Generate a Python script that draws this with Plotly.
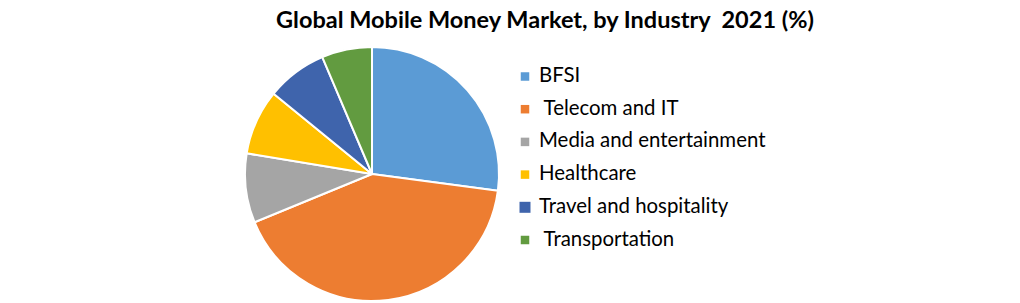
import plotly.graph_objects as go

categories = ["BFSI", " Telecom and IT", "Media and entertainment", "Healthcare",
              "Travel and hospitality", " Transportation"]
values = [27.1, 41.7, 8.8, 8.3, 7.7, 6.4]
colors = ["#5B9BD5", "#ED7D31", "#A5A5A5", "#FFC000", "#3F64AC", "#629B40"]
title_text = "Global Mobile Money Market, by Industry  2021 (%)"

W, H = 1020, 303
cx, cy, r = 372, 174, 127

fig = go.Figure(go.Pie(
    labels=categories,
    values=values,
    sort=False,
    direction="clockwise",
    rotation=0,
    marker=dict(colors=colors, line=dict(color="white", width=2)),
    textinfo="none",
    hoverinfo="label+value",
    showlegend=False,
    domain=dict(x=[(cx - r) / W, (cx + r) / W], y=[1 - (cy + r) / H, 1 - (cy - r) / H]),
))

# legend drawn manually (fixed spacing like the reference)
leg_x_sym, leg_x_txt, leg_top, leg_step = 525, 537, 74, 32.7
sym_sizes = {"Travel and hospitality": 11}
shapes, annotations = [], []
for i, (lab, col) in enumerate(zip(categories, colors)):
    yc = leg_top + i * leg_step
    s = sym_sizes.get(lab, 8.5)
    ys = yc + 2.5
    shapes.append(dict(type="rect", xref="paper", yref="paper",
                       x0=(leg_x_sym - s / 2) / W, x1=(leg_x_sym + s / 2) / W,
                       y0=1 - (ys + s / 2) / H, y1=1 - (ys - s / 2) / H,
                       fillcolor=col, line=dict(width=0)))
    annotations.append(dict(text=lab.replace(" ", "&nbsp;", 1) if lab.startswith(" ") else lab,
                            xref="paper", yref="paper",
                            x=leg_x_txt / W, y=1 - yc / H, xanchor="left", yanchor="middle",
                            showarrow=False,
                            font=dict(family="Lato", size=20.4, color="black")))

fig.update_layout(
    width=W, height=H,
    margin=dict(l=0, r=0, t=0, b=0),
    paper_bgcolor="white",
    plot_bgcolor="white",
    title=dict(text="<b>" + title_text + "</b>", x=545 / W, xanchor="center",
               y=1 - 20 / H, yanchor="middle",
               font=dict(family="Lato", size=23.5, color="black")),
    shapes=shapes,
    annotations=annotations,
)

fig.write_html("out.html")
